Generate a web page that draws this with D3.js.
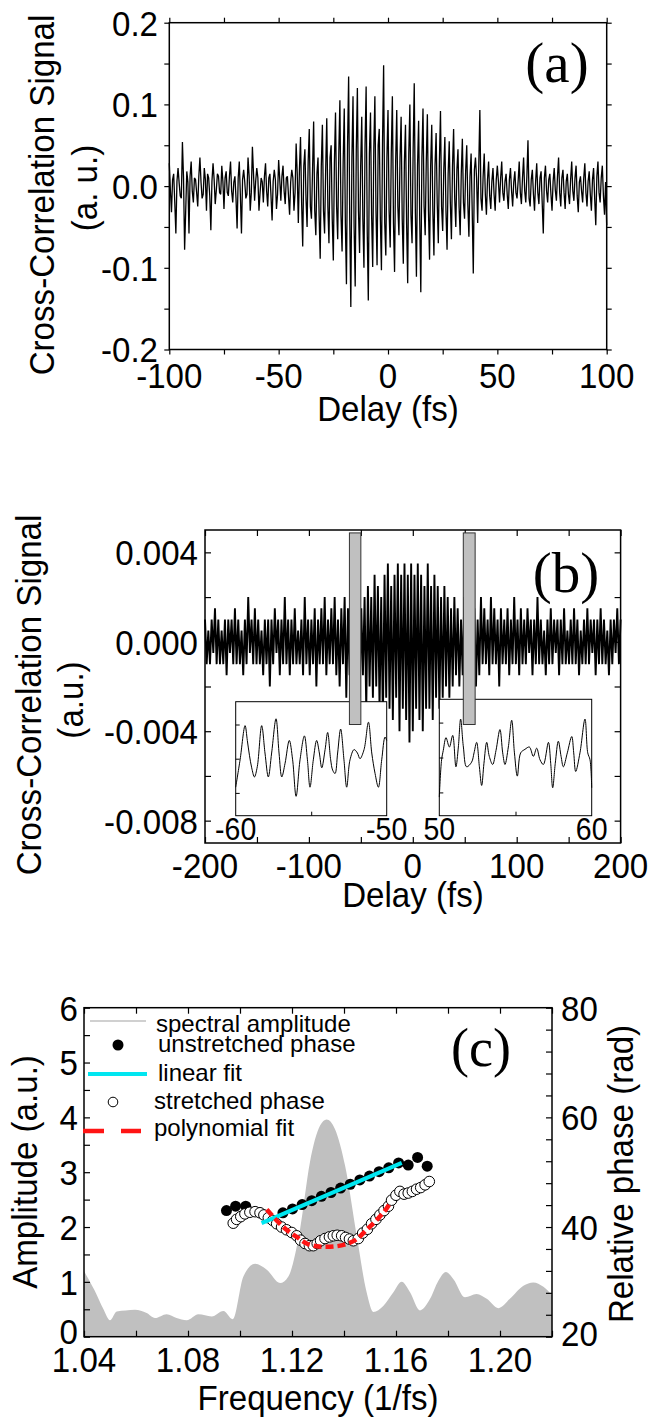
<!DOCTYPE html>
<html>
<head>
<meta charset="utf-8">
<script src="https://cdn.jsdelivr.net/npm/d3@7"></script>
<style>
  body { margin: 0; background: #fff; }
  text { font-family: "Liberation Sans", Arial, Helvetica, sans-serif; fill: #000; }
  .tag { font-family: "Liberation Serif", "Times New Roman", serif; }
</style>
</head>
<body>
<div id="chart"></div>
<script>
// ---------- panel (a): cross-correlation, delay -100..100 fs ----------
// signal in units of 1e-3 a.u., samples at whole fs
const signalA = [
  28, -32, 15, -58, 22, -12, 54, -78, 18, -58,
  30, -20, 8, -25, 35, -15, 22, -30, 10, -54,
  28, -22, 15, -8, 25, -28, 18, -12, 30, -20,
  12, -52, 30, -58, 20, -15, 35, -30, 48, -18,
  22, -30, 10, -20, 28, -25, 15, -42, 20, -28,
  32, -18, 25, -22, 12, -35, 20, -30, 52, -45,
  60, -74, 45, -50, 70, -40, 79, -60, 35, -89,
  75, -58, 83, -70, 50, -91, 90, -65, 105, -80,
  95, -120, 134, -148, 110, -123, 120, -82, 85, -100,
  122, -140, 90, -99, 110, -97, 70, -103, 148, -85,
  93, -75, 110, -105, 93, -60, 85, -95, 75, -119,
  100, -70, 126, -111, 80, -130, 95, -60, 88, -90,
  75, -85, 65, -70, 92, -55, 60, -78, 55, -65,
  70, -50, 45, -60, 58, -40, 50, -62, 40, -107,
  35, -45, 93, -30, 40, -35, 30, -28, 22, -30,
  25, -20, 30, -18, 15, -28, 22, -25, 18, -15,
  30, -22, 35, -20, 56, -25, 20, -30, 28, -22,
  18, -58, 25, -20, 15, -30, 22, -18, 35, -25,
  20, -28, 15, -22, 30, -18, 25, -32, 12, -20,
  28, -25, 18, -30, 22, -48, 30, -20, 25, -35,
  -48
];
// samples at the half-fs points (-99.5 .. 99.5), same units
const signalAHalf = [
  -5, 8, -20, 6, 4, -15, 10, -30, 5, 12,
  -6, 10, -8, 12, 5, -10, 8, 15, -12, 6,
  8, -5, 12, -10, 6, 10, -8, 12, -6, 5,
  -15, 10, -12, 8, 5, -10, 12, -8, 15, 6,
  10, -8, 5, 12, -6, 10, -12, 6, 8, -10,
  8, 12, -6, 10, -12, 5, 10, -8, 15, 20,
  -20, 25, -15, 30, -25, 20, -30, 15, -35, 25,
  -30, 20, -25, 35, -40, 30, -25, 40, -35, 30,
  -45, 50, -40, 35, -50, 45, -30, 25, -40, 50,
  -55, 40, -35, 45, -30, 50, -40, 55, -45, 35,
  -30, 40, -45, 30, -25, 35, -40, 30, -45, 40,
  -35, 45, -30, 25, -40, 35, -25, 30, -30, 25,
  -30, 25, -20, 30, -25, 20, -30, 15, -20, 25,
  -15, 20, -25, 15, -20, 18, -22, 12, -30, 20,
  10, 25, -15, 12, -10, 8, -12, 6, -10, 8,
  5, 10, -8, 6, -10, 8, -6, 5, -8, 6,
  -8, 10, -6, 12, -15, 8, -10, 6, -8, 10,
  -20, 10, -6, 8, -10, 6, -5, 12, -8, 10,
  -8, 6, -10, 8, -6, 10, -12, 5, -6, 10,
  -8, 6, -10, 8, -15, 12, -8, 10, -12, 5
];
const xTicksA = [-100, -50, 0, 50, 100];
const yTicksA = [-0.2, -0.1, 0.0, 0.1, 0.2];

// ---------- panel (b): cross-correlation, delay -200..200 fs, 1.6 fs grid ----------
// signal in units of 1e-4 a.u.
const signalB = [
  10, -10, 5, -10, 10, -5, 15, -10, 10, -10,
  5, -10, 10, -15, 10, -5, 10, -10, 15, -10,
  10, -10, 5, -15, 10, -10, 20, -5, 10, -10,
  15, -10, 10, -10, 5, -15, 10, -10, 10, -20,
  10, -10, 15, -5, 10, -15, 10, -10, 20, -10,
  10, -15, 10, -10, 15, -10, 5, -10, 10, -15,
  20, -10, 10, -15, 10, -10, 15, -20, 10, -10,
  15, -10, 20, -15, 10, -10, 15, -10, 20, -15,
  10, -20, 15, -10, 20, -25, 15, -15, 20, -10,
  15, -20, 10, -25, 15, -15, 20, -30, 25, -20,
  20, -25, 30, -20, 25, -30, 20, -35, 30, -25,
  35, -30, 25, -35, 30, -25, 35, -40, 30, -30,
  35, -35, 30, -45, 35, -40, 30, -30, 35, -35,
  30, -40, 25, -30, 35, -30, 25, -35, 30, -25,
  25, -30, 20, -25, 25, -20, 20, -25, 15, -20,
  20, -15, 15, -20, 10, -15, 20, -10, 15, -15,
  20, -10, 15, -20, 10, -15, 20, -10, 15, -10,
  10, -15, 20, -10, 15, -10, 10, -20, 15, -10,
  10, -10, 15, -15, 10, -10, 20, -10, 10, -15,
  15, -10, 10, -10, 15, -5, 10, -15, 10, -10,
  20, -10, 10, -10, 5, -15, 10, -10, 15, -10,
  10, -5, 10, -15, 10, -10, 15, -10, 5, -10,
  10, -10, 15, -10, 10, -15, 5, -10, 10, -10,
  15, -10, 10, -5, 10, -15, 10, -10, 15, -10,
  10, -10, 5, -15, 10, -10, 10, -5, 15, -10,
  10
];
const delayB = signalB.map((d, i) => -200 + i * 1.6);
const xTicksB = [-200, -100, 0, 100, 200];
const yTicksB = [-0.008, -0.004, 0.000, 0.004];
// shaded windows (fs) and their vertical extent (a.u.)
const windowFrom = [-61, 48.6];
const windowTo = [-50, 60];
const windowLow = -0.0037, windowHigh = 0.00487;

// insets: zoomed traces (relative units 0..10)
const insetLeftT = [-60, -59.71, -59.38, -59.23, -59.09, -58.94, -58.76, -58.57, -58.28, -58.06,
  -57.84, -57.62, -57.33, -57.13, -56.95, -56.73, -56.45, -56.23, -56.0, -55.74,
  -55.45, -55.25, -55.08, -54.86, -54.64, -54.46, -54.3, -54.08, -53.91, -53.71,
  -53.58, -53.42, -53.25, -53.05, -52.83, -52.65, -52.43, -52.16, -51.94, -51.77,
  -51.5, -51.21, -50.99, -50.77, -50.55, -50.33, -50.11, -50.0];
const insetLeftV = [2.5, 4.9, 7.9, 6.6, 5.3, 4.2, 3.4, 4.3, 7.9, 5.5,
  3.4, 5.5, 8.5, 5.5, 3.4, 4.6, 6.6, 4.9, 1.7, 4.9,
  7.0, 4.9, 2.5, 4.9, 6.6, 5.5, 4.2, 5.8, 7.3, 4.9,
  4.0, 3.7, 5.5, 7.6, 4.9, 2.5, 4.9, 5.8, 5.5, 5.0,
  5.8, 8.2, 5.5, 3.7, 2.5, 4.9, 6.9, 6.6];
const insetRightT = [50.0, 50.15, 50.26, 50.44, 50.66, 50.88, 51.09, 51.25, 51.4, 51.58,
  51.79, 52.12, 52.28, 52.45, 52.63, 52.78, 52.93, 53.11, 53.28, 53.5,
  53.72, 53.98, 54.16, 54.31, 54.53, 54.75, 54.93, 55.12, 55.34, 55.62,
  55.91, 56.17, 56.39, 56.61, 56.83, 57.16, 57.31, 57.44, 57.61, 57.81,
  57.99, 58.14, 58.4, 58.69, 58.82, 58.95, 59.23, 59.56, 59.74, 59.89, 60.0];
const insetRightV = [1.6, 4.8, 5.6, 6.7, 5.9, 6.9, 4.2, 5.9, 8.3, 5.9,
  4.2, 4.6, 5.4, 6.3, 4.2, 2.6, 4.5, 6.3, 5.1, 4.4,
  5.6, 7.4, 5.4, 4.4, 5.9, 8.2, 5.4, 3.4, 5.4, 5.7,
  5.9, 5.1, 5.8, 4.8, 4.4, 6.3, 4.5, 2.4, 4.5, 6.4,
  5.1, 4.2, 5.4, 6.8, 5.4, 3.8, 5.4, 8.3, 5.4, 4.8, 2.4];

// ---------- panel (c): spectrum and phases ----------
const specFreq = [1.040, 1.044, 1.0475, 1.0500, 1.0526, 1.0560, 1.0596, 1.0641, 1.0673, 1.0718,
  1.0756, 1.0795, 1.0840, 1.0891, 1.0936, 1.0972, 1.1013, 1.1058, 1.1103, 1.1154,
  1.1186, 1.1231, 1.1269, 1.1308, 1.1333, 1.1365, 1.1404, 1.1449, 1.1487, 1.1513,
  1.1551, 1.1590, 1.1622, 1.1654, 1.1692, 1.1731, 1.1763, 1.1792, 1.1821, 1.1865,
  1.1910, 1.1949, 1.1994, 1.2038, 1.2090, 1.2128, 1.2167, 1.2200];
const specAmp = [1.20, 0.85, 0.50, 0.30, 0.46, 0.48, 0.49, 0.43, 0.34, 0.41,
  0.34, 0.30, 0.41, 0.37, 0.47, 0.32, 1.10, 1.33, 1.22, 0.98,
  1.10, 1.96, 3.18, 3.85, 3.96, 3.79, 3.12, 1.84, 0.81, 0.45,
  0.56, 0.81, 1.00, 0.81, 0.48, 0.69, 1.02, 1.18, 1.05, 0.72,
  0.78, 0.69, 0.52, 0.69, 0.93, 0.99, 0.91, 0.76];

const unstretchedFreq = [1.0948, 1.0983, 1.1022, 1.1165, 1.1202, 1.1239, 1.1276, 1.1313, 1.1350, 1.1387,
  1.1424, 1.1461, 1.1498, 1.1535, 1.1572, 1.1610, 1.1647, 1.1683, 1.1720];
const unstretchedPhase = [43.0, 43.8, 43.8, 42.6, 43.3, 44.1, 44.8, 45.6, 46.3, 47.1,
  47.8, 48.6, 49.3, 50.1, 50.8, 51.7, 51.3, 52.7, 51.1];

const stretchedFreq = [1.0974, 1.0987, 1.1003, 1.1019, 1.1038, 1.1058, 1.1077, 1.1092, 1.1109, 1.1126,
  1.1141, 1.1160, 1.1179, 1.1199, 1.1218, 1.1233, 1.1250, 1.1267, 1.1282, 1.1297,
  1.1310, 1.1327, 1.1344, 1.1359, 1.1374, 1.1391, 1.1406, 1.1421, 1.1436, 1.1455,
  1.1472, 1.1490, 1.1506, 1.1523, 1.1538, 1.1554, 1.1571, 1.1583, 1.1600, 1.1615,
  1.1631, 1.1647, 1.1663, 1.1679, 1.1695, 1.1712, 1.1728];
const stretchedPhase = [40.7, 41.4, 41.9, 42.4, 42.7, 42.8, 42.6, 42.2, 41.7, 41.2,
  40.6, 40.0, 39.5, 39.0, 38.4, 37.6, 37.0, 36.6, 36.6, 37.0,
  37.5, 37.9, 38.2, 38.4, 38.5, 38.4, 38.1, 37.8, 37.5, 37.9,
  38.9, 39.6, 40.6, 41.4, 42.2, 43.0, 43.8, 44.9, 45.8, 46.5,
  46.0, 46.2, 46.5, 46.9, 47.2, 47.7, 48.3];

const linFitFreq = [1.1083, 1.1622];
const linFitPhase = [40.7, 51.7];
const polyFitFreq = [1.1103, 1.1141, 1.1179, 1.1218, 1.1256, 1.1295, 1.1333, 1.1372, 1.1410, 1.1449,
  1.1487, 1.1526, 1.1564, 1.1580];
const polyFitPhase = [43.2, 41.2, 39.5, 38.2, 37.0, 36.5, 36.4, 36.5, 36.9, 37.8,
  39.5, 41.3, 43.4, 44.6];

const xTicksC = [1.04, 1.08, 1.12, 1.16, 1.20];
const ampTicks = [0, 1, 2, 3, 4, 5, 6];
const phaseTicks = [20, 40, 60, 80];
const legendC = ["spectral amplitude", "unstretched phase", "linear fit", "stretched phase", "polynomial fit"];

// ---------- drawing ----------
const svg = d3.select("#chart").append("svg")
  .attr("width", 658).attr("height", 1420);

const FS = 36, SX = 0.92;   // tall, slightly narrow sans text like the original
const CYAN = "#00e6f0", RED = "#ff1414", GRAY = "#c0c0c0";

function tickAxis(g, axis, tx, ty) {
  g.append("g")
    .attr("transform", `translate(${tx},${ty})`)
    .call(axis.tickFormat(""))
    .call(s => s.select(".domain").remove())
    .call(s => s.selectAll("line").attr("stroke", "#000").attr("stroke-width", 1.2));
}

function frame(g, x, y) {
  g.append("rect")
    .attr("x", x.range()[0]).attr("y", y.range()[1])
    .attr("width", x.range()[1] - x.range()[0])
    .attr("height", y.range()[0] - y.range()[1])
    .attr("fill", "none").attr("stroke", "#000").attr("stroke-width", 1.5);
}

// labels: position via transform so the glyphs can be narrowed
function place(x, y, rot) {
  return `translate(${x},${y})` + (rot ? ` rotate(${rot})` : "") + ` scale(${SX},1)`;
}
function label(g, x, y, s, anchor, rot, size) {
  return g.append("text").attr("transform", place(x, y, rot))
    .attr("text-anchor", anchor || "middle")
    .style("font-size", (size || FS) + "px").text(s);
}

// ===== (a) =====
const xA = d3.scaleLinear().domain([-100, 100]).range([169.3, 606.7]);
const yA = d3.scaleLinear().domain([-0.2, 0.2]).range([349.5, 22.7]);
const gA = svg.append("g");

// merge whole-fs and half-fs samples into one time-ordered trace
const traceA = [];
signalA.forEach((v, i) => {
  traceA.push([-100 + i, v]);
  if (i < signalAHalf.length) traceA.push([-99.5 + i, signalAHalf[i]]);
});

gA.append("path")
  .datum(traceA)
  .attr("fill", "none").attr("stroke", "#000").attr("stroke-width", 1.3)
  .attr("stroke-linejoin", "bevel")
  .attr("d", d3.line().x(d => xA(d[0])).y(d => yA(d[1] * 1e-3)));

const tA = d3.range(-100, 101, 25), tAy = d3.range(-4, 5).map(k => k * 0.05);
tickAxis(gA, d3.axisBottom(xA).tickValues(tA).tickSize(5), 0, yA.range()[0]);
tickAxis(gA, d3.axisTop(xA).tickValues(tA).tickSize(5), 0, yA.range()[1]);
tickAxis(gA, d3.axisLeft(yA).tickValues(tAy).tickSize(5), xA.range()[0], 0);
tickAxis(gA, d3.axisRight(yA).tickValues(tAy).tickSize(5), xA.range()[1], 0);
frame(gA, xA, yA);

gA.selectAll(".xl").data(xTicksA).join("text")
  .attr("transform", d => place(xA(d), 388)).attr("text-anchor", "middle")
  .style("font-size", FS + "px").text(d => d);
gA.selectAll(".yl").data(yTicksA).join("text")
  .attr("transform", d => place(158, yA(d))).attr("dy", "0.36em").attr("text-anchor", "end")
  .style("font-size", FS + "px").text(d => d.toFixed(1));
label(gA, 388, 421, "Delay (fs)");
label(gA, 54, 195, "Cross-Correlation Signal", "middle", -90);
label(gA, 97, 188, "(a. u.)", "middle", -90);
gA.append("text").attr("class", "tag").attr("x", 557).attr("y", 82).attr("text-anchor", "middle")
  .style("font-size", "57px").text("(a)");

// ===== (b) =====
const xB = d3.scaleLinear().domain([-200, 200]).range([205, 620.6]);
const yB = d3.scaleLinear().domain([-0.009, 0.005]).range([843, 530]);
const gB = svg.append("g");

gB.append("path")
  .datum(signalB)
  .attr("fill", "none").attr("stroke", "#000").attr("stroke-width", 1.9)
  .attr("stroke-linejoin", "bevel")
  .attr("d", d3.line().x((d, i) => xB(delayB[i])).y(d => yB(d * 1e-4)));

const tB = d3.range(-200, 201, 50), tBy = d3.range(-4, 3).map(k => k * 0.002);
tickAxis(gB, d3.axisBottom(xB).tickValues(tB).tickSize(-6), 0, yB.range()[0]);
tickAxis(gB, d3.axisTop(xB).tickValues(tB).tickSize(-6), 0, yB.range()[1]);
tickAxis(gB, d3.axisLeft(yB).tickValues(tBy).tickSize(-6), xB.range()[0], 0);
tickAxis(gB, d3.axisRight(yB).tickValues(tBy).tickSize(-6), xB.range()[1], 0);
frame(gB, xB, yB);

// insets
const insets = [
  { t: insetLeftT, v: insetLeftV, x0: 235.7, x1: 386.7, y0: 815.7, y1: 701.7 },
  { t: insetRightT, v: insetRightV, x0: 439.3, x1: 591.7, y0: 815.7, y1: 699.3 }
];
insets.forEach(ins => {
  const xi = d3.scaleLinear().domain(d3.extent(ins.t)).range([ins.x0, ins.x1]);
  const yi = d3.scaleLinear().domain([0, 10]).range([ins.y0, ins.y1]);
  const gi = gB.append("g");
  gi.append("rect").attr("x", ins.x0).attr("y", ins.y1)
    .attr("width", ins.x1 - ins.x0).attr("height", ins.y0 - ins.y1)
    .attr("fill", "#fff").attr("stroke", "#000").attr("stroke-width", 1);
  const mid = (xi.domain()[0] + xi.domain()[1]) / 2;
  gi.append("g").attr("transform", `translate(0,${ins.y0})`)
    .call(d3.axisBottom(xi).tickValues([mid]).tickSize(-4).tickFormat(""))
    .call(s => s.select(".domain").remove());
  gi.append("g").attr("transform", `translate(${ins.x0},0)`)
    .call(d3.axisLeft(yi).tickValues([2, 5, 8]).tickSize(-4).tickFormat(""))
    .call(s => s.select(".domain").remove());
  gi.append("path").datum(ins.v)
    .attr("fill", "none").attr("stroke", "#000").attr("stroke-width", 1)
    .attr("d", d3.line().curve(d3.curveCatmullRom).x((d, i) => xi(ins.t[i])).y(d => yi(d)));
  gi.selectAll("text.il").data(xi.domain()).join("text")
    .attr("transform", d => place(xi(d), 840)).attr("text-anchor", "middle")
    .style("font-size", "31px").text(d => d);
});

// shaded windows
gB.selectAll("rect.win").data(windowFrom).join("rect")
  .attr("x", d => xB(d)).attr("y", yB(windowHigh))
  .attr("width", (d, i) => xB(windowTo[i]) - xB(d))
  .attr("height", yB(windowLow) - yB(windowHigh))
  .attr("fill", GRAY).attr("stroke", "#333").attr("stroke-width", 1);

gB.selectAll(".xl").data(xTicksB).join("text")
  .attr("transform", d => place(xB(d), 878)).attr("text-anchor", "middle")
  .style("font-size", FS + "px").text(d => d);
gB.selectAll(".yl").data(yTicksB).join("text")
  .attr("transform", d => place(198, yB(d))).attr("dy", "0.36em").attr("text-anchor", "end")
  .style("font-size", FS + "px").text(d => d.toFixed(3));
label(gB, 413, 907, "Delay (fs)");
label(gB, 41, 695, "Cross-Correlation Signal", "middle", -90);
label(gB, 83, 700, "(a.u.)", "middle", -90);
gB.append("text").attr("class", "tag").attr("x", 566).attr("y", 592).attr("text-anchor", "middle")
  .style("font-size", "57px").text("(b)");

// ===== (c) =====
const xC = d3.scaleLinear().domain([1.04, 1.22]).range([84, 552]);
const yAmp = d3.scaleLinear().domain([0, 6]).range([1336.7, 1007.7]);
const yPh = d3.scaleLinear().domain([20, 80]).range([1336.7, 1007.7]);
const gC = svg.append("g");

gC.append("path").datum(specAmp)
  .attr("fill", GRAY)
  .attr("d", d3.area().curve(d3.curveMonotoneX)
    .x((d, i) => xC(specFreq[i])).y0(yAmp(0)).y1(d => yAmp(d)));

gC.selectAll("circle.un").data(unstretchedPhase).join("circle")
  .attr("cx", (d, i) => xC(unstretchedFreq[i])).attr("cy", d => yPh(d))
  .attr("r", 5.5).attr("fill", "#000");

gC.selectAll("circle.st").data(stretchedPhase).join("circle")
  .attr("cx", (d, i) => xC(stretchedFreq[i])).attr("cy", d => yPh(d))
  .attr("r", 5.3).attr("fill", "#fff").attr("stroke", "#000").attr("stroke-width", 1);

gC.append("path").datum(linFitPhase)
  .attr("fill", "none").attr("stroke", CYAN).attr("stroke-width", 4)
  .attr("d", d3.line().x((d, i) => xC(linFitFreq[i])).y(d => yPh(d)));

gC.append("path").datum(polyFitPhase)
  .attr("fill", "none").attr("stroke", RED).attr("stroke-width", 4.5)
  .attr("stroke-dasharray", "8,4")
  .attr("d", d3.line().curve(d3.curveMonotoneX).x((d, i) => xC(polyFitFreq[i])).y(d => yPh(d)));

const tC = d3.range(0, 10).map(k => 1.04 + k * 0.02);
tickAxis(gC, d3.axisBottom(xC).tickValues(tC).tickSize(-6), 0, yAmp.range()[0]);
tickAxis(gC, d3.axisTop(xC).tickValues(tC).tickSize(-6), 0, yAmp.range()[1]);
tickAxis(gC, d3.axisLeft(yAmp).tickValues(d3.range(0, 13).map(k => k * 0.5)).tickSize(-6), xC.range()[0], 0);
tickAxis(gC, d3.axisRight(yPh).tickValues(d3.range(20, 81, 4)).tickSize(-6), xC.range()[1], 0);
frame(gC, xC, yAmp);

gC.selectAll(".xl").data(xTicksC).join("text")
  .attr("transform", d => place(xC(d), 1372)).attr("text-anchor", "middle")
  .style("font-size", FS + "px").text(d => d.toFixed(2));
// the lowest labels sit a little above their ticks in the original
gC.selectAll(".yl").data(ampTicks).join("text")
  .attr("transform", d => place(78, yAmp(d) - (d === 0 ? 6 : 0))).attr("dy", "0.36em").attr("text-anchor", "end")
  .style("font-size", FS + "px").text(d => d);
gC.selectAll(".yr").data(phaseTicks).join("text")
  .attr("transform", d => place(561, yPh(d) - (d === 20 ? 4 : 0))).attr("dy", "0.36em").attr("text-anchor", "start")
  .style("font-size", FS + "px").text(d => d);
label(gC, 318, 1410, "Frequency (1/fs)");
label(gC, 37, 1172, "Amplitude (a.u.)", "middle", -90);
label(gC, 633, 1174, "Relative phase (rad)", "middle", -90);
gC.append("text").attr("class", "tag").attr("x", 481).attr("y", 1066).attr("text-anchor", "middle")
  .style("font-size", "54px").text("(c)");

// legend
const lg = gC.append("g");
lg.append("line").attr("x1", 90).attr("x2", 146).attr("y1", 1021).attr("y2", 1021)
  .attr("stroke", GRAY).attr("stroke-width", 1.5);
lg.append("circle").attr("cx", 118).attr("cy", 1045).attr("r", 5.5).attr("fill", "#000");
lg.append("line").attr("x1", 88).attr("x2", 147).attr("y1", 1074).attr("y2", 1074)
  .attr("stroke", CYAN).attr("stroke-width", 4);
lg.append("circle").attr("cx", 113).attr("cy", 1102).attr("r", 4.8)
  .attr("fill", "#fff").attr("stroke", "#000").attr("stroke-width", 1);
lg.append("line").attr("x1", 83).attr("x2", 141).attr("y1", 1131).attr("y2", 1131)
  .attr("stroke", RED).attr("stroke-width", 4.5).attr("stroke-dasharray", "21,17");
const legX = [156, 158, 158, 154, 154], legY = [1032, 1052, 1081, 1109, 1136];
lg.selectAll("text").data(legendC).join("text")
  .attr("x", (d, i) => legX[i]).attr("y", (d, i) => legY[i])
  .style("font-size", "24px").text(d => d);
</script>
</body>
</html>
